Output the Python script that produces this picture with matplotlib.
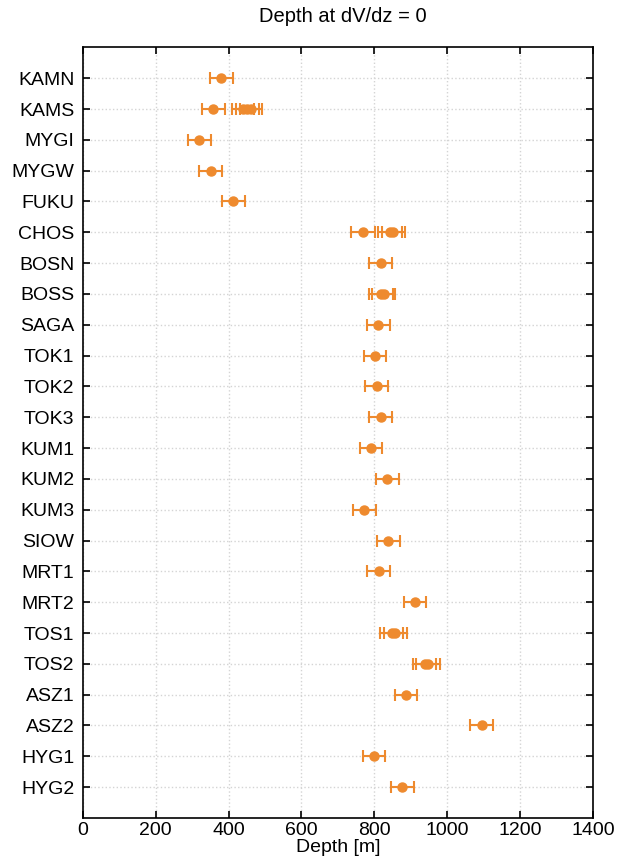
import matplotlib.pyplot as plt
import numpy as np

plt.rcParams['font.family'] = ['Liberation Sans', 'DejaVu Sans']

stations = ["KAMN", "KAMS", "MYGI", "MYGW", "FUKU", "CHOS", "BOSN", "BOSS",
            "SAGA", "TOK1", "TOK2", "TOK3", "KUM1", "KUM2", "KUM3", "SIOW",
            "MRT1", "MRT2", "TOS1", "TOS2", "ASZ1", "ASZ2", "HYG1", "HYG2"]

# one entry per estimate (some stations have several)
point_station = ["KAMN", "KAMS", "KAMS", "KAMS", "KAMS", "MYGI", "MYGW", "FUKU",
                 "CHOS", "CHOS", "CHOS", "BOSN", "BOSS", "BOSS", "SAGA", "TOK1",
                 "TOK2", "TOK3", "KUM1", "KUM2", "KUM3", "SIOW", "MRT1", "MRT2",
                 "TOS1", "TOS1", "TOS2", "TOS2", "ASZ1", "ASZ2", "HYG1", "HYG2"]
depth = [380, 358, 440, 452, 462, 320, 351, 413,
         769, 843, 852, 818, 819, 826, 811, 802,
         807, 818, 791, 836, 773, 839, 812, 912,
         848, 858, 938, 948, 887, 1095, 799, 877]
depth_err = [31, 31, 31, 31, 31, 31, 31, 31,
             32, 32, 32, 31, 32, 32, 31, 31,
             31, 31, 31, 31, 31, 31, 31, 31,
             32, 32, 32, 32, 31, 31, 31, 31]

orange = "#EE8A2E"

fig = plt.figure(figsize=(6.32, 8.61), dpi=100)
ax = fig.add_axes([0.131, 0.050, 0.807, 0.895])

ypos = [stations.index(s) + 1 for s in point_station]
ax.errorbar(depth, ypos, xerr=depth_err, fmt="o", color=orange,
            markersize=6.5, elinewidth=1.5, capsize=4, capthick=1.5, zorder=3)

ax.set_xlim(0, 1400)
ax.set_ylim(len(stations) + 1, 0)
ax.set_xticks(np.arange(0, 1401, 200))
ax.set_yticks(np.arange(1, len(stations) + 1))
ax.set_yticklabels(stations)

ax.grid(True, color="#d4d4d4", linestyle=":", linewidth=1.0, zorder=0)
ax.set_axisbelow(True)

ax.tick_params(direction="in", top=True, right=True, length=5, width=1.2,
               labelsize=14)
ax.tick_params(axis="y", pad=6)
ax.tick_params(axis="x", pad=3)
for sp in ax.spines.values():
    sp.set_linewidth(1.2)

ax.set_xlabel("Depth [m]", fontsize=14, labelpad=0)
ax.set_title("Depth at dV/dz = 0", fontsize=14.5, pad=18, x=0.51)

fig.savefig("out.png", dpi=100)
